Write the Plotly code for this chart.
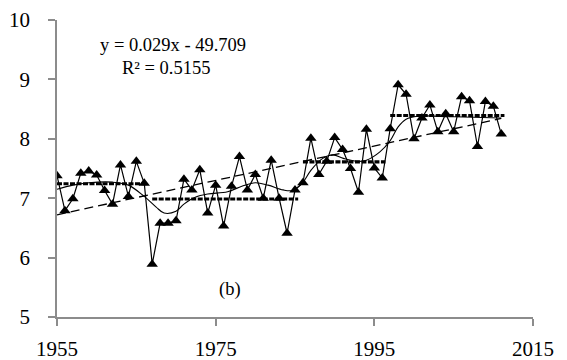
import numpy as np
import plotly.graph_objects as go

years = list(range(1955, 2012))
values = [7.38, 6.79, 6.99, 7.42, 7.46, 7.39, 7.13, 6.90, 7.56, 7.03,
          7.62, 7.25, 5.89, 6.58, 6.58, 6.62, 7.32, 7.14, 7.48, 6.75,
          7.22, 6.53, 7.20, 7.70, 7.14, 7.40, 7.00, 7.64, 7.00, 6.41,
          7.14, 7.26, 8.01, 7.40, 7.62, 8.02, 7.82, 7.50, 7.10, 8.16,
          7.51, 7.34, 8.17, 8.91, 8.75, 8.00, 8.35, 8.57, 8.12, 8.42,
          8.12, 8.71, 8.64, 7.87, 8.63, 8.55, 8.08]

# periods for step means
period_starts = [1955, 1967, 1986, 1997]
period_ends = [1966, 1985, 1996, 2011]

# smoothed curve
smooth_years = [1955, 1957, 1959, 1962, 1964, 1966, 1967.5, 1968.5, 1970, 1971,
                1972.5, 1974, 1976.5, 1978.3, 1980, 1981.6, 1983.5, 1984.6, 1985.9,
                1987, 1988.5, 1989.8, 1991.1, 1992.8, 1994, 1995.7, 1997, 1998,
                1999, 2000.5, 2005, 2011]
smooth_values = [7.15, 7.22, 7.26, 7.27, 7.22, 7.03, 6.85, 6.75, 6.78, 6.90,
                 7.02, 7.07, 7.11, 7.20, 7.26, 7.22, 7.14, 7.13, 7.25,
                 7.47, 7.67, 7.73, 7.67, 7.62, 7.64, 7.78, 7.97, 8.20,
                 8.33, 8.38, 8.37, 8.35]

eq_text = "y = 0.029x - 49.709"
r2_text = "R² = 0.5155"
panel_label = "(b)"

x = np.array(years, dtype=float)
y = np.array(values)
slope, intercept = np.polyfit(x, y, 1)

fig = go.Figure()

# trend line
fig.add_trace(go.Scatter(x=[years[0], years[-1]],
                         y=[slope * years[0] + intercept, slope * years[-1] + intercept],
                         mode="lines", line=dict(color="black", width=1.3, dash="9px,5px"),
                         showlegend=False, hoverinfo="skip"))

# step means
for s, e in zip(period_starts, period_ends):
    m = float(np.mean(y[(x >= s) & (x <= e)]))
    fig.add_trace(go.Scatter(x=[s, e + 0.4], y=[m, m], mode="lines",
                             line=dict(color="black", width=3.2, dash="5px,1.5px"),
                             showlegend=False, hoverinfo="skip"))

# smooth curve
fig.add_trace(go.Scatter(x=smooth_years, y=smooth_values, mode="lines",
                         line=dict(color="black", width=1.1, shape="spline", smoothing=1.0),
                         showlegend=False, hoverinfo="skip"))

# data
fig.add_trace(go.Scatter(x=years, y=values, mode="lines+markers",
                         line=dict(color="black", width=1.2),
                         marker=dict(symbol="triangle-up", size=10, color="black"),
                         showlegend=False))

font_family = "Liberation Serif, Times New Roman, serif"
fig.add_annotation(x=1969.6, y=9.58, text=eq_text, showarrow=False,
                   font=dict(family=font_family, size=18.5, color="black"))
fig.add_annotation(x=1968.7, y=9.19, text=r2_text, showarrow=False,
                   font=dict(family=font_family, size=18.5, color="black"))
fig.add_annotation(x=1976.8, y=5.46, text=panel_label, showarrow=False,
                   font=dict(family=font_family, size=18.5, color="black"))

axis_common = dict(showgrid=False, zeroline=False, showline=True, linecolor="#8c8c8c",
                   linewidth=1.5, ticks="outside", ticklen=7, tickcolor="#8c8c8c",
                   tickwidth=1.5, automargin=False,
                   tickfont=dict(family=font_family, size=21, color="black"))

fig.update_layout(
    width=559, height=352,
    margin=dict(l=49, r=34, t=12, b=43),
    paper_bgcolor="white", plot_bgcolor="white",
    xaxis=dict(range=[1955, 2015], tickvals=[1955, 1975, 1995, 2015],
               ticklabelstandoff=5, **axis_common),
    yaxis=dict(range=[5, 10], dtick=1, ticklabelstandoff=14, **axis_common),
)

fig.write_html("out.html")
